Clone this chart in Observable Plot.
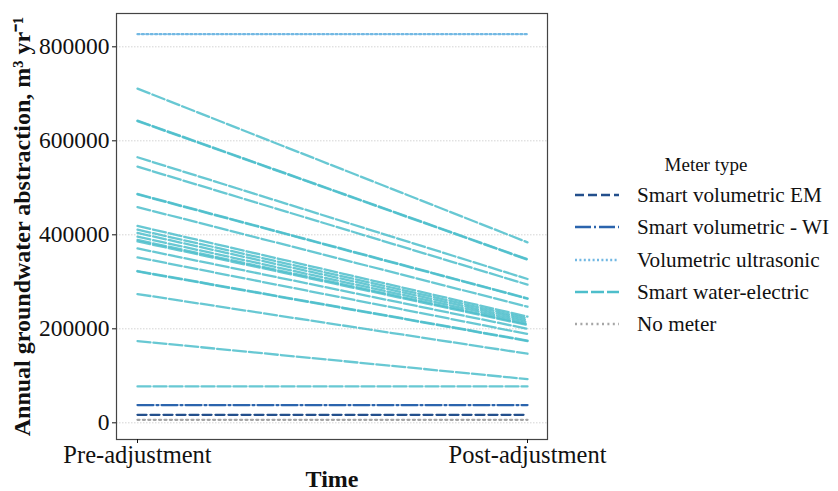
<!DOCTYPE html>
<html>
<head>
<meta charset="utf-8">
<script src="https://cdn.jsdelivr.net/npm/d3@7"></script>
<script src="https://cdn.jsdelivr.net/npm/@observablehq/plot@0.6"></script>
<style>
  body { margin: 0; background: #fff; }
  #wrap { position: relative; width: 838px; height: 491px; font-family: "Liberation Serif", "Times New Roman", serif; }
  #legend { position: absolute; left: 0; top: 0; }
</style>
</head>
<body>
<div id="wrap"></div>
<script>
const periods = ["Pre-adjustment", "Post-adjustment"];
const meterTypes = ["Smart volumetric EM", "Smart volumetric - WI", "Volumetric ultrasonic", "Smart water-electric", "No meter"];
const meterColors = ["#234f8c", "#2b64ad", "#72b8e3", "#4dbecb", "#a6a6a6"];
const meterDashes = ["9,4", "16,3,2,3", "2,2.4", "13,3", "2,3.4"];
const yTicks = [0, 200000, 400000, 600000, 800000];

const wellMeter = [
  "Volumetric ultrasonic",
  "Smart water-electric", "Smart water-electric", "Smart water-electric", "Smart water-electric",
  "Smart water-electric", "Smart water-electric", "Smart water-electric", "Smart water-electric",
  "Smart water-electric", "Smart water-electric", "Smart water-electric", "Smart water-electric",
  "Smart water-electric", "Smart water-electric", "Smart water-electric", "Smart water-electric",
  "Smart water-electric", "Smart water-electric", "Smart water-electric", "Smart water-electric",
  "Smart water-electric",
  "Smart volumetric - WI", "Smart volumetric EM", "No meter"
];
const preValues = [
  827000,
  711000, 642000, 643000, 565000, 545000, 486000, 487000, 459000,
  419000, 411000, 404000, 396000, 389000, 386000, 371000, 352000,
  322000, 323000, 274000, 174000, 77500,
  37700, 17000, 6400
];
const postValues = [
  827000,
  384000, 347000, 348000, 306000, 294000, 264000, 265000, 247000,
  226000, 222000, 218000, 214000, 210000, 208000, 200000, 189000,
  174000, 175000, 147000, 93000, 77500,
  37700, 17000, 6400
];

const data = [];
wellMeter.forEach((m, i) => {
  data.push({well: i, meter: m, period: periods[0], value: preValues[i]});
  data.push({well: i, meter: m, period: periods[1], value: postValues[i]});
});

const font = '"Liberation Serif", "Times New Roman", serif';

const lineMarks = meterTypes.map((m, k) =>
  Plot.line(data.filter(d => d.meter === m), {
    x: "period", y: "value", z: "well",
    stroke: meterColors[k], strokeDasharray: meterDashes[k], strokeWidth: 2.3, strokeOpacity: k === 3 ? 0.85 : 1
  })
);

const chart = Plot.plot({
  width: 838,
  height: 491,
  marginLeft: 116,
  marginRight: 291,
  marginTop: 13,
  marginBottom: 52,
  style: {fontFamily: font, fontSize: "24px", color: "#111", background: "#fff"},
  x: {type: "point", domain: periods, padding: 0.0512, label: null},
  y: {domain: [-35500, 870900], label: null},
  marks: [
    Plot.ruleY(yTicks, {stroke: "#d4d4d4", strokeWidth: 1, strokeDasharray: "1.5,1.5"}),
    ...lineMarks.slice().reverse(),
    Plot.frame({stroke: "#444", strokeWidth: 1.2}),
    Plot.axisY(yTicks, {
      tickSize: 4, tickPadding: 3, tickFormat: d => String(d), fontSize: 23.5, fontFamily: font,
      label: "Annual groundwater abstraction, m³ yr⁻¹", labelAnchor: "center", labelArrow: "none", labelOffset: 104
    }),
    Plot.axisX(periods, {
      tickSize: 4, tickPadding: 2, fontSize: 24.5, fontFamily: font,
      label: "Time", labelAnchor: "center", labelArrow: "none", labelOffset: 47
    })
  ]
});

// make axis labels bold
d3.select(chart).selectAll("[aria-label='y-axis label'], [aria-label='x-axis label']")
  .attr("font-weight", "bold").attr("font-size", 24).attr("font-family", font);

document.getElementById("wrap").appendChild(chart);

// legend
const leg = d3.select("#wrap").append("svg")
  .attr("id", "legend").attr("width", 838).attr("height", 491)
  .style("font-family", font);
leg.append("text").attr("x", 706).attr("y", 171).attr("text-anchor", "middle")
  .attr("font-size", 19).attr("fill", "#111").text("Meter type");
const legY = [195, 227, 260, 292, 324];
meterTypes.forEach((m, k) => {
  leg.append("line").attr("x1", 575).attr("x2", 619).attr("y1", legY[k]).attr("y2", legY[k])
    .attr("stroke", meterColors[k]).attr("stroke-width", 2.3).attr("stroke-dasharray", meterDashes[k]);
  leg.append("text").attr("x", 637).attr("y", legY[k]).attr("dy", "0.35em")
    .attr("font-size", 21.2).attr("fill", "#111").text(m);
});
</script>
</body>
</html>
